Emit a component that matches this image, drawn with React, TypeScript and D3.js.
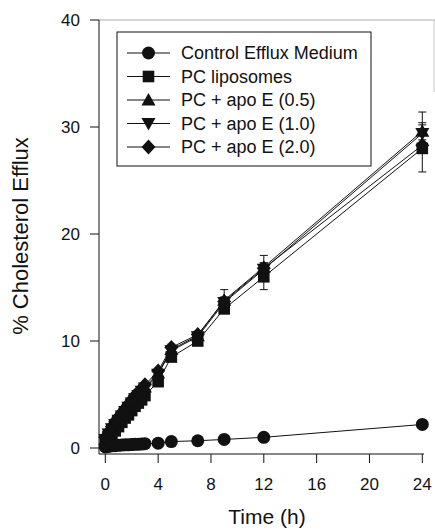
import React from 'react';
import * as d3 from 'd3';

const times = [0, 0.25, 0.5, 0.75, 1, 1.25, 1.5, 1.75, 2, 2.25, 2.5, 2.75, 3, 4, 5, 7, 9, 12, 24];
const control = [0.1, 0.15, 0.2, 0.22, 0.25, 0.27, 0.3, 0.3, 0.32, 0.34, 0.35, 0.37, 0.4, 0.45, 0.6, 0.68, 0.8, 1.0, 2.2];
const pcLipo = [0.4, 0.8, 1.2, 1.6, 2.0, 2.4, 2.8, 3.1, 3.5, 3.9, 4.2, 4.5, 4.9, 6.2, 8.5, 10.0, 13.0, 16.0, 28.0];
const apoE05 = [0.8, 1.3, 1.8, 2.3, 2.7, 3.1, 3.5, 3.9, 4.3, 4.7, 5.0, 5.3, 5.7, 7.0, 9.2, 10.5, 13.8, 16.9, 29.6];
const apoE10 = [0.8, 1.3, 1.8, 2.2, 2.6, 3.0, 3.4, 3.8, 4.2, 4.6, 4.9, 5.3, 5.6, 6.9, 9.1, 10.4, 13.6, 16.7, 29.4];
const apoE20 = [1.0, 1.5, 2.0, 2.5, 2.9, 3.3, 3.7, 4.1, 4.5, 4.9, 5.2, 5.5, 5.9, 7.2, 9.4, 10.6, 13.7, 16.8, 28.3];

// error bars (SD) at selected times
const errTimes = [5, 7, 9, 12, 24];
const pcLipoErr = [0.4, 0.4, 0.4, 1.2, 2.2];
const apoE05Err = [0.3, 0.3, 1.0, 1.1, 1.8];
const apoE10Err = [0.3, 0.3, 0.5, 0.6, 1.0];
const apoE20Err = [0.3, 0.3, 0.4, 0.5, 0.5];
const controlErr = [0, 0, 0, 0, 0];

const seriesNames = ['Control Efflux Medium', 'PC liposomes', 'PC + apo E (0.5)', 'PC + apo E (1.0)', 'PC + apo E (2.0)'];
const seriesShapes = ['circle', 'square', 'triangle', 'invtriangle', 'diamond'];
const seriesValues = [control, pcLipo, apoE05, apoE10, apoE20];
const seriesErrs = [controlErr, pcLipoErr, apoE05Err, apoE10Err, apoE20Err];

const xTicks = [0, 4, 8, 12, 16, 20, 24];
const yTicks = [0, 10, 20, 30, 40];

const FONT = 'Liberation Sans, Arial, Helvetica, sans-serif';

function markerPath(shape: string): string {
  switch (shape) {
    case 'circle':
      return 'M6.5,0A6.5,6.5,0,1,1,-6.5,0A6.5,6.5,0,1,1,6.5,0Z';
    case 'square':
      return 'M-5.8,-5.8H5.8V5.8H-5.8Z';
    case 'triangle':
      return 'M0,-7L7,5.5H-7Z';
    case 'invtriangle':
      return 'M0,7L7,-5.5H-7Z';
    case 'diamond':
      return 'M0,-7.5L7,0L0,7.5L-7,0Z';
    default:
      return '';
  }
}

export default function App() {
  const W = 435;
  const H = 531;
  const x = d3.scaleLinear().domain([0, 24]).range([105.3, 422.3]);
  const y = d3.scaleLinear().domain([0, 40]).range([448, 20]);
  const axisX = 99;
  const axisY = 454;

  const line = d3
    .line<[number, number]>()
    .x((d) => x(d[0]))
    .y((d) => y(d[1]));

  const legendX = 117;
  const legendY = 32;
  const legendW = 254;
  const legendH = 134;
  const legendRows = [53, 76.5, 100, 123.5, 147];

  return (
    <svg width={W} height={H} style={{ position: 'absolute', left: 0, top: 0 }} fontFamily={FONT}>
      <rect x={0} y={0} width={W} height={H} fill="#fff" />
      {/* faint top/right frame */}
      <line x1={axisX} y1={20} x2={W} y2={20} stroke="#999" strokeWidth={0.8} />
      <line x1={434} y1={20} x2={434} y2={92} stroke="#bbb" strokeWidth={0.8} />

      {/* axes */}
      <line x1={axisX} y1={20} x2={axisX} y2={axisY} stroke="#111" strokeWidth={1} />
      <line x1={axisX} y1={axisY} x2={424} y2={axisY} stroke="#111" strokeWidth={1} />
      {yTicks.map((t) => (
        <g key={'yt' + t}>
          <line x1={axisX - 9} x2={axisX} y1={y(t)} y2={y(t)} stroke="#111" strokeWidth={1} />
          <text x={80} y={y(t)} dy="0.35em" textAnchor="end" fontSize={17} fill="#111">
            {t}
          </text>
        </g>
      ))}
      {xTicks.map((t) => (
        <g key={'xt' + t}>
          <line x1={x(t)} x2={x(t)} y1={axisY} y2={axisY + 9} stroke="#111" strokeWidth={1} />
          <text x={x(t)} y={484} dy="0.35em" textAnchor="middle" fontSize={17} fill="#111">
            {t}
          </text>
        </g>
      ))}

      {/* axis titles */}
      <text x={267} y={524} textAnchor="middle" fontSize={21} fill="#111">
        Time (h)
      </text>
      <text
        transform={`translate(20,236) rotate(-90)`}
        dy="0.35em"
        textAnchor="middle"
        fontSize={22}
        fill="#111"
      >
        % Cholesterol Efflux
      </text>

      {/* series lines */}
      {seriesValues.map((vals, si) => (
        <path
          key={'l' + si}
          d={line(times.map((t, i) => [t, vals[i]] as [number, number])) || ''}
          fill="none"
          stroke="#111"
          strokeWidth={1}
        />
      ))}

      {/* error bars */}
      {seriesValues.map((vals, si) =>
        errTimes.map((t, k) => {
          const sd = seriesErrs[si][k];
          if (!sd) return null;
          const idx = times.indexOf(t);
          const v = vals[idx];
          const cx = x(t);
          return (
            <g key={'e' + si + '-' + k} stroke="#111" strokeWidth={1}>
              <line x1={cx} x2={cx} y1={y(v - sd)} y2={y(v + sd)} />
              <line x1={cx - 4} x2={cx + 4} y1={y(v + sd)} y2={y(v + sd)} />
              <line x1={cx - 4} x2={cx + 4} y1={y(v - sd)} y2={y(v - sd)} />
            </g>
          );
        })
      )}

      {/* markers */}
      {seriesValues.map((vals, si) =>
        times.map((t, i) => (
          <path
            key={'m' + si + '-' + i}
            d={markerPath(seriesShapes[si])}
            transform={`translate(${x(t)},${y(vals[i])})`}
            fill="#111"
          />
        ))
      )}

      {/* legend */}
      <rect x={legendX} y={legendY} width={legendW} height={legendH} fill="#fff" stroke="#111" strokeWidth={1} />
      {seriesNames.map((name, i) => (
        <g key={'lg' + i}>
          <line x1={127} x2={170} y1={legendRows[i]} y2={legendRows[i]} stroke="#111" strokeWidth={1} />
          <path d={markerPath(seriesShapes[i])} transform={`translate(148.5,${legendRows[i]})`} fill="#111" />
          <text x={181} y={legendRows[i]} dy="0.35em" fontSize={18} fill="#111">
            {name}
          </text>
        </g>
      ))}
    </svg>
  );
}
